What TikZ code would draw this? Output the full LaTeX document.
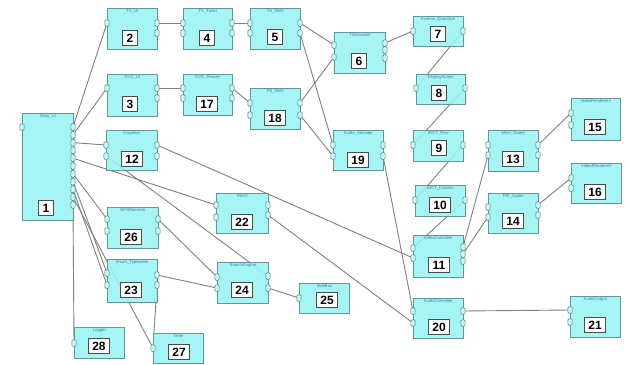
\documentclass[tikz,border=0pt]{standalone}
\usepackage{fontspec}
\setmainfont{Liberation Sans}
\usetikzlibrary{backgrounds}
\definecolor{boxfill}{RGB}{152,244,244}
\definecolor{boxline}{RGB}{100,150,150}
\definecolor{wirec}{RGB}{128,128,128}
\definecolor{lblc}{RGB}{70,120,165}
\tikzset{
  comp/.style={draw=boxline, fill=boxfill, fill opacity=0.88, line width=0.8pt, inner sep=0pt, anchor=north west},
  numbox/.style={draw=black!70, fill=white, line width=0.9pt, inner xsep=4pt, inner ysep=0pt, minimum width=15pt, minimum height=15pt, font=\fontsize{12}{12}\selectfont\bfseries},
  port/.style={draw=boxline!80!black, fill=boxfill!55!white, rounded corners=1pt, minimum width=4.2pt, minimum height=6.5pt, inner sep=0pt, line width=0.5pt},
  wire/.style={draw=wirec, line width=0.9pt},
  lbltext/.style={text=lblc, font=\fontsize{4.2}{4.2}\selectfont, inner sep=0pt, anchor=north}
}
\newcommand\Comp[9]{%
  \node[comp, minimum width={#4-#2}, minimum height={#5-#3}] (#1) at (#2,#3) {};
  \node[lbltext] (#1lab) at ([yshift=-1.5pt]#1.north) {#6};
  \node[numbox] (#1num) at (#8,#9) {#7};
}
\newcommand\Port[3]{\node[port] (#1) at (#2,#3) {};}
\begin{document}
\begin{tikzpicture}[x=1pt,y=-1pt]
\useasboundingbox (0,0) rectangle (628,364);
% components
\Comp{c1}{22}{113}{73}{220}{Main\_UI}{1}{46}{208}
\Comp{c2}{107}{8}{157}{49}{TV\_UI}{2}{130}{38}
\Comp{c3}{107}{74}{157}{116}{DVD\_UI}{3}{130}{104}
\Comp{c4}{183}{8}{232}{49}{TV\_Tuner}{4}{207}{38}
\Comp{c5}{250}{8}{300}{49}{TS\_DMX}{5}{275}{37}
\Comp{c6}{334}{32}{385}{73}{TSDecoder}{6}{359}{61}
\Comp{c7}{413}{16}{463}{46}{Inverse\_Quantizer}{7}{438}{34}
\Comp{c8}{416}{74}{465}{104}{DisplayScaler}{8}{439}{93}
\Comp{c9}{413}{130}{463}{161}{IDCT\_Row}{9}{439}{148}
\Comp{c10}{415}{185}{465}{216}{IDCT\_Column}{10}{440}{205}
\Comp{c11}{413}{235}{463}{277}{VideoController}{11}{439}{265}
\Comp{c12}{106}{130}{157}{170}{Graphics}{12}{132}{159}
\Comp{c13}{488}{130}{538}{171}{Main\_Scaler}{13}{513}{159}
\Comp{c14}{488}{193}{538}{233}{PIP\_Scaler}{14}{513}{221}
\Comp{c15}{571}{98}{620}{140}{VideoRenderer1}{15}{595}{127}
\Comp{c16}{571}{163}{621}{203}{VideoRenderer2}{16}{595}{192}
\Comp{c17}{183}{74}{232}{115}{DVD\_Reader}{17}{207}{104}
\Comp{c18}{250}{88}{300}{129}{PS\_DMX}{18}{275}{118}
\Comp{c19}{333}{130}{383}{170}{Audio\_Decoder}{19}{358}{160}
\Comp{c20}{413}{298}{463}{338}{AudioController}{20}{439}{327}
\Comp{c21}{570}{296}{620}{337}{AudioOutput}{21}{595}{325}
\Comp{c22}{216}{193}{268}{233}{FileIO}{22}{242}{222}
\Comp{c23}{107}{259}{157}{302}{Smart\_Typewriter}{23}{131}{290}
\Comp{c24}{217}{262}{268}{303}{SearchEngine}{24}{242}{290}
\Comp{c25}{299}{283}{349}{313}{SideBus}{25}{327}{300}
\Comp{c26}{107}{207}{158}{248}{GPSReceiver}{26}{131}{237}
\Comp{c27}{153}{333}{203}{363}{Timer}{27}{179}{352}
\Comp{c28}{74}{327}{124}{358}{Logger}{28}{99}{346}
% ports
\Port{p1l}{22}{127}
\foreach \i/\y in {1/127,2/134.8,3/142.6,4/150.4,5/158.2,6/166,7/173.8,8/181.6,9/189.4,10/197.2,11/205}{\Port{p1r\i}{73}{\y}}
\Port{p2l}{107}{23}\Port{p2r1}{157}{23}\Port{p2r2}{157}{33}
\Port{p3l}{107}{88}\Port{p3r1}{157}{88}\Port{p3r2}{157}{98}
\Port{p4l1}{183}{23}\Port{p4l2}{183}{33}\Port{p4r1}{232}{23}\Port{p4r2}{232}{33}
\Port{p5l1}{250}{23}\Port{p5l2}{250}{33}\Port{p5r1}{300}{23}\Port{p5r2}{300}{33}
\Port{p6l1}{334}{45}\Port{p6l2}{334}{57}\Port{p6r1}{385}{43}\Port{p6r2}{385}{50}\Port{p6r3}{385}{58}
\Port{p7l}{413}{31}\Port{p7r}{463}{31}
\Port{p8l}{416}{88}\Port{p8r}{465}{88}
\Port{p9l}{413}{145}\Port{p9r}{463}{145}
\Port{p10l}{415}{200}\Port{p10r}{465}{200}
\Port{p11l1}{413}{248}\Port{p11l2}{413}{258}\Port{p11r1}{463}{247}\Port{p11r2}{463}{254}\Port{p11r3}{463}{261}
\Port{p12l1}{106}{145}\Port{p12l2}{106}{156}\Port{p12r1}{157}{145}\Port{p12r2}{157}{156}
\Port{p13l1}{488}{145}\Port{p13l2}{488}{155}\Port{p13r1}{538}{145}\Port{p13r2}{538}{155}
\Port{p14l1}{488}{207}\Port{p14l2}{488}{217}\Port{p14r1}{538}{205}\Port{p14r2}{538}{215}
\Port{p15l1}{571}{113}\Port{p15l2}{571}{125}
\Port{p16l1}{571}{178}\Port{p16l2}{571}{188}
\Port{p17l1}{183}{88}\Port{p17l2}{183}{98}\Port{p17r1}{232}{88}\Port{p17r2}{232}{98}
\Port{p18l1}{250}{103}\Port{p18l2}{250}{115}\Port{p18r1}{300}{103}\Port{p18r2}{300}{115}
\Port{p19l1}{333}{145}\Port{p19l2}{333}{156}\Port{p19r1}{383}{145}\Port{p19r2}{383}{156}
\Port{p20l1}{413}{311}\Port{p20l2}{413}{323}\Port{p20r1}{463}{311}\Port{p20r2}{463}{323}
\Port{p21l1}{570}{310}\Port{p21l2}{570}{322}
\Port{p22l1}{216}{205}\Port{p22l2}{216}{217}\Port{p22r1}{268}{205}\Port{p22r2}{268}{215}
\Port{p23l1}{107}{273}\Port{p23l2}{107}{285}\Port{p23r1}{157}{275}\Port{p23r2}{157}{285}
\Port{p24l1}{217}{277}\Port{p24l2}{217}{288}\Port{p24r1}{268}{276}\Port{p24r2}{268}{288}
\Port{p25l}{299}{298}
\Port{p26l1}{107}{219}\Port{p26l2}{107}{231}\Port{p26r1}{158}{219}\Port{p26r2}{158}{231}
\Port{p27l}{153}{348}
\Port{p28l}{74}{343}
% connectors
\begin{scope}[on background layer]
\draw[wire] (p1r1.center) -- (p2l.center);
\draw[wire] (p1r2.center) -- (p3l.center);
\draw[wire] (p1r3.center) -- (p12l1.center);
\draw[wire] (p1r5.center) -- (p22l1.center);
\draw[wire] (p1r7.center) -- (p26l1.center);
\draw[wire] (p1r8.center) -- (p23l1.center);
\draw[wire] (p1r9.center) -- (p23l2.center);
\draw[wire] (p1r10.center) -- (p27l.center);
\draw[wire] (p1r11.center) -- (p28l.center);
\draw[wire] (p12l2.center) -- (p24r1.center);
\draw[wire] (p12r1.center) -- (p11l2.center);
\draw[wire] (p2r1.center) -- (p4l1.center);
\draw[wire] (p4r1.center) -- (p5l1.center);
\draw[wire] (p5r1.center) -- (p6l1.center);
\draw[wire] (p5r2.center) -- (p19l1.center);
\draw[wire] (p3r1.center) -- (p17l1.center);
\draw[wire] (p17r1.center) -- (p18l1.center);
\draw[wire] (p18r1.center) -- (p6l2.center);
\draw[wire] (p18r2.center) -- (p19l2.center);
\draw[wire] (p6r1.center) -- (p7l.center);
\draw[wire] (p7r.center) -- (p8l.center);
\draw[wire] (p8r.center) -- (p9l.center);
\draw[wire] (p9r.center) -- (p10l.center);
\draw[wire] (p10r.center) -- (p11l1.center);
\draw[wire] (p19r2.center) -- (p20l1.center);
\draw[wire] (p22r2.center) -- (p20l2.center);
\draw[wire] (p11r1.center) -- (p13l2.center);
\draw[wire] (p11r2.center) -- (p14l2.center);
\draw[wire] (p13r1.center) -- (p15l1.center);
\draw[wire] (p14r1.center) -- (p16l1.center);
\draw[wire] (p20r1.center) -- (p21l1.center);
\draw[wire] (p26r1.center) -- (p24l1.center);
\draw[wire] (p23r1.center) -- (p24l2.center);
\draw[wire] (p23r2.center) -- (p27l.center);
\draw[wire] (p24r2.center) -- (p25l.center);
\end{scope}
\end{tikzpicture}
\end{document}
